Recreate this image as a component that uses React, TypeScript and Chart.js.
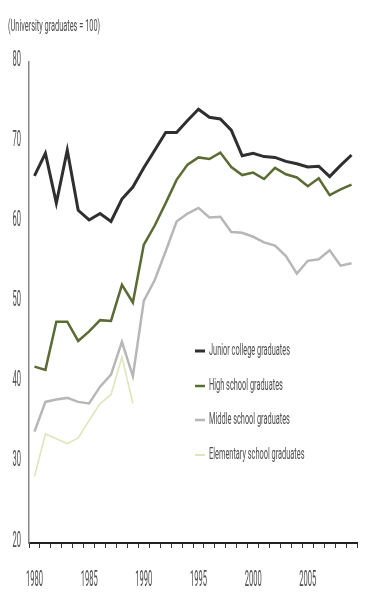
import React, { useEffect, useRef } from "react";
import { Chart, registerables } from "chart.js";

Chart.register(...registerables);

const years = [
  "1980", "1981", "1982", "1983", "1984", "1985", "1986", "1987", "1988", "1989",
  "1990", "1991", "1992", "1993", "1994", "1995", "1996", "1997", "1998", "1999",
  "2000", "2001", "2002", "2003", "2004", "2005", "2006", "2007", "2008", "2009",
];
const xTickLabels = ["1980", "1985", "1990", "1995", "2000", "2005"];
const yTickValues = [20, 30, 40, 50, 60, 70, 80];
const unitLabel = "(University graduates = 100)";

const juniorCollege = [
  65.8, 68.6, 62.4, 69.0, 61.5, 60.3, 61.1, 60.1, 62.9, 64.4,
  66.8, 69.0, 71.2, 71.2, 72.7, 74.1, 73.1, 72.9, 71.5, 68.3,
  68.6, 68.2, 68.1, 67.6, 67.3, 66.9, 67.0, 65.7, 67.1, 68.4,
];
const highSchool = [
  42.0, 41.6, 47.6, 47.6, 45.2, 46.4, 47.8, 47.7, 52.2, 50.0,
  57.2, 59.6, 62.4, 65.3, 67.2, 68.1, 67.9, 68.7, 66.9, 65.9,
  66.2, 65.4, 66.8, 66.0, 65.6, 64.5, 65.5, 63.4, 64.1, 64.7,
];
const middleSchool = [
  33.9, 37.6, 37.9, 38.1, 37.6, 37.4, 39.5, 41.0, 45.1, 40.8,
  50.2, 52.8, 56.4, 60.1, 61.1, 61.8, 60.6, 60.7, 58.8, 58.7,
  58.2, 57.5, 57.1, 55.8, 53.6, 55.2, 55.4, 56.5, 54.6, 54.9,
];
const elementary = [
  28.3, 33.6, 33.0, 32.4, 33.1, 35.3, 37.4, 38.5, 43.2, 37.4,
  null, null, null, null, null, null, null, null, null, null,
  null, null, null, null, null, null, null, null, null, null,
];

const seriesLabels = [
  "Junior college graduates",
  "High school graduates",
  "Middle school graduates",
  "Elementary school graduates",
];
const seriesColors = ["#2f2f2f", "#5a6c34", "#b7b7b7", "#dfe6bb"];
const seriesWidths = [3, 2.5, 2.5, 1.6];
const seriesData = [juniorCollege, highSchool, middleSchool, elementary];

const FONT_FAMILY = '"Liberation Sans Narrow", "Roboto", "DejaVu Sans", sans-serif';
const TEXT_COLOR = "#4d4d4d";

const textPlugin = {
  id: "condensedText",
  afterDraw(chart: any) {
    const ctx: CanvasRenderingContext2D = chart.ctx;
    const xScale = chart.scales.x;
    const yScale = chart.scales.y;

    ctx.save();
    ctx.font = `22px ${FONT_FAMILY}`;
    const tickSx = 17 / ctx.measureText("1980").width;
    ctx.font = `16px ${FONT_FAMILY}`;
    const legSx = 81 / ctx.measureText(seriesLabels[0]).width;
    ctx.restore();

    const draw = (text: string, x: number, y: number, size: number, sx: number, align: CanvasTextAlign) => {
      ctx.save();
      ctx.font = `${size}px ${FONT_FAMILY}`;
      ctx.fillStyle = TEXT_COLOR;
      ctx.textBaseline = "middle";
      ctx.textAlign = align;
      ctx.translate(x, y);
      ctx.scale(sx, 1);
      ctx.fillText(text, 0, 0);
      ctx.restore();
    };

    // title / unit
    draw(unitLabel, 8, 27, 16, legSx, "left");

    // y tick labels
    yTickValues.forEach((v) => {
      draw(String(v), 21, yScale.getPixelForValue(v) - 2, 22, tickSx, "right");
    });

    // x tick labels
    xTickLabels.forEach((lab) => {
      const idx = years.indexOf(lab);
      const px = xScale.getPixelForValue(idx);
      draw(lab, px, yScale.bottom + 37, 22, tickSx, "center");
    });

    // legend
    const rowY = [351, 386, 420, 455];
    chart.data.datasets.forEach((ds: any, i: number) => {
      const y = rowY[i];
      ctx.save();
      ctx.strokeStyle = ds.borderColor;
      ctx.lineWidth = Math.max(ds.borderWidth, 2);
      ctx.beginPath();
      ctx.moveTo(195, y);
      ctx.lineTo(205, y);
      ctx.stroke();
      ctx.restore();
      draw(ds.label, 209, y, 16, legSx, "left");
    });
  },
};

export default function App() {
  const canvasRef = useRef<HTMLCanvasElement | null>(null);

  useEffect(() => {
    if (!canvasRef.current) return;
    const chart = new Chart(canvasRef.current, {
      type: "line",
      data: {
        labels: years,
        datasets: seriesData.map((d, i) => ({
          label: seriesLabels[i],
          data: d,
          borderColor: seriesColors[i],
          backgroundColor: seriesColors[i],
          borderWidth: seriesWidths[i],
          pointRadius: 0,
          tension: 0,
          spanGaps: false,
          fill: false,
        })),
      },
      options: {
        responsive: false,
        animation: false,
        devicePixelRatio: 1,
        layout: { padding: { top: 62, left: 29, right: 8, bottom: 51 } },
        plugins: {
          legend: { display: false },
          title: { display: false },
          tooltip: { enabled: false },
        },
        scales: {
          x: {
            type: "category",
            offset: true,
            ticks: { display: false },
            grid: {
              display: true,
              drawOnChartArea: false,
              drawTicks: true,
              tickLength: 5,
              color: "#333333",
              lineWidth: 1,
              offset: true,
            },
            border: { display: true, color: "#222222", width: 2 },
          },
          y: {
            min: 20,
            max: 80,
            ticks: { display: false, stepSize: 10 },
            grid: { display: false, drawTicks: false },
            border: { display: true, color: "#888888", width: 1.5 },
          },
        },
      },
      plugins: [textPlugin],
    });
    return () => chart.destroy();
  }, []);

  return (
    <div style={{ position: "absolute", left: 0, top: 0, width: 365, height: 599, background: "#ffffff" }}>
      <canvas ref={canvasRef} width={365} height={599} />
    </div>
  );
}
